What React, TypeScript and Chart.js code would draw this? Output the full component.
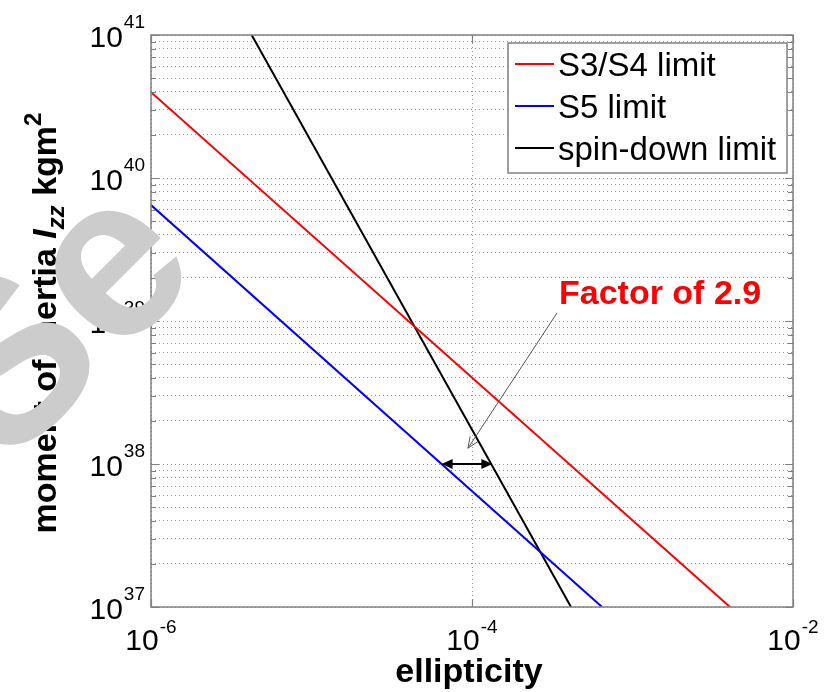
import { useEffect, useRef } from "react";
import { Chart, registerables } from "chart.js";

Chart.register(...registerables);

const FONT = '"Liberation Sans", Arial, Helvetica, sans-serif';

// Upper limits on the moment of inertia versus ellipticity (log-log)
const s34Ellipticity = [1e-6, 4.05e-3];
const s34Izz = [3.98e40, 1e37];
const s5Ellipticity = [1e-6, 6.46e-4];
const s5Izz = [6.47e39, 1e37];
const spinDownEllipticity = [4.24e-6, 4.14e-4];
const spinDownIzz = [1e41, 1e37];

const seriesLabels = ["S3/S4 limit", "S5 limit", "spin-down limit"];
const seriesColors = ["#ff0000", "#0000ff", "#000000"];

// Axis ticks
const xTickValues = [1e-6, 1e-4, 1e-2];
const yDecades = [1e37, 1e38, 1e39, 1e40, 1e41];
const yMinorSteps = [2, 3, 4, 5, 6, 7, 8, 9];

// Annotation: gap between the S5 limit and the spin-down limit
const gapEllipticity = [6.47e-5, 1.34e-4];
const gapIzz = 1e38;
const pointerStart = [3.39e-4, 1.14e39];
const pointerEnd = [9.44e-5, 1.29e38];
const factorText = "Factor of 2.9";

const xTitle = "ellipticity";
const yTitleParts = ["moment of inertia ", "I", "zz", " kgm", "2"];
const watermarkText = "Se";

const yMinorValues = yDecades.slice(0, -1).flatMap((d) => yMinorSteps.map((m) => d * m));
const yGridValues = [...yDecades, ...yMinorValues].sort((a, b) => a - b);

const pts = (xs: number[], ys: number[]) => xs.map((x, i) => ({ x, y: ys[i] }));

function drawPow(
  ctx: CanvasRenderingContext2D,
  exp: string,
  x: number,
  baseline: number,
  align: "right" | "center",
  baseSize: number,
  supSize: number,
  supBaseline: number
) {
  ctx.font = `${baseSize}px ${FONT}`;
  const w10 = ctx.measureText("10").width;
  ctx.font = `${supSize}px ${FONT}`;
  const we = ctx.measureText(exp).width;
  const total = w10 + 1 + we;
  const start = align === "right" ? x - total : x - total / 2;
  ctx.textAlign = "left";
  ctx.textBaseline = "alphabetic";
  ctx.fillStyle = "#000";
  ctx.font = `${baseSize}px ${FONT}`;
  ctx.fillText("10", start, baseline);
  ctx.font = `${supSize}px ${FONT}`;
  ctx.fillText(exp, start + w10 + 1, supBaseline);
}

const decorPlugin = {
  id: "decor",
  afterDatasetsDraw(chart: any) {
    const { ctx, chartArea: a, scales } = chart;
    const xs = scales.x;
    const ys = scales.y;
    ctx.save();

    // axes box
    ctx.strokeStyle = "#808080";
    ctx.lineWidth = 1.5;
    ctx.strokeRect(a.left, a.top, a.right - a.left, a.bottom - a.top);

    // inward tick marks on all four sides
    ctx.lineWidth = 1.2;
    ctx.beginPath();
    yGridValues.forEach((v) => {
      const py = Math.round(ys.getPixelForValue(v)) + 0.5;
      const len = yDecades.includes(v) ? 8 : 5;
      ctx.moveTo(a.left, py);
      ctx.lineTo(a.left + len, py);
      ctx.moveTo(a.right, py);
      ctx.lineTo(a.right - len, py);
    });
    xTickValues.forEach((v) => {
      const px = Math.round(xs.getPixelForValue(v)) + 0.5;
      ctx.moveTo(px, a.bottom);
      ctx.lineTo(px, a.bottom - 8);
      ctx.moveTo(px, a.top);
      ctx.lineTo(px, a.top + 8);
    });
    ctx.stroke();

    // legend
    const lx = 508, ly = 43, lw = 279, lh = 130;
    ctx.fillStyle = "#fff";
    ctx.fillRect(lx, ly, lw, lh);
    ctx.strokeStyle = "#808080";
    ctx.lineWidth = 1.5;
    ctx.strokeRect(lx, ly, lw, lh);
    chart.data.datasets.forEach((ds: any, i: number) => {
      const ry = 64 + i * 42;
      ctx.strokeStyle = ds.borderColor;
      ctx.lineWidth = 1.8;
      ctx.beginPath();
      ctx.moveTo(515, ry);
      ctx.lineTo(554, ry);
      ctx.stroke();
      ctx.fillStyle = "#000";
      ctx.font = `33px ${FONT}`;
      ctx.textAlign = "left";
      ctx.textBaseline = "alphabetic";
      ctx.fillText(ds.label, 558, ry + 11.5);
    });

    // pointer arrow towards the gap
    const p0x = xs.getPixelForValue(pointerStart[0]);
    const p0y = ys.getPixelForValue(pointerStart[1]);
    const p1x = xs.getPixelForValue(pointerEnd[0]);
    const p1y = ys.getPixelForValue(pointerEnd[1]);
    ctx.strokeStyle = "#555";
    ctx.lineWidth = 1;
    ctx.beginPath();
    ctx.moveTo(p0x, p0y);
    ctx.lineTo(p1x, p1y);
    const ang = Math.atan2(p1y - p0y, p1x - p0x);
    const hl = 12;
    [0.4, -0.4].forEach((d) => {
      ctx.moveTo(p1x, p1y);
      ctx.lineTo(p1x - hl * Math.cos(ang + d), p1y - hl * Math.sin(ang + d));
    });
    ctx.stroke();

    // double-headed arrow across the gap
    const gy = ys.getPixelForValue(gapIzz);
    const gx0 = xs.getPixelForValue(gapEllipticity[0]);
    const gx1 = xs.getPixelForValue(gapEllipticity[1]);
    ctx.strokeStyle = "#000";
    ctx.fillStyle = "#000";
    ctx.lineWidth = 2;
    ctx.beginPath();
    ctx.moveTo(gx0 + 6, gy);
    ctx.lineTo(gx1 - 6, gy);
    ctx.stroke();
    const head = (tx: number, dir: number) => {
      ctx.beginPath();
      ctx.moveTo(tx, gy);
      ctx.lineTo(tx - dir * 11, gy - 5);
      ctx.lineTo(tx - dir * 11, gy + 5);
      ctx.closePath();
      ctx.fill();
    };
    head(gx0, -1);
    head(gx1, 1);

    // annotation text
    ctx.fillStyle = "#ff0000";
    ctx.font = `bold 34px ${FONT}`;
    ctx.textAlign = "left";
    ctx.textBaseline = "alphabetic";
    ctx.fillText(factorText, 559, 304);

    ctx.restore();
  },
  afterDraw(chart: any) {
    const { ctx, chartArea: a, scales } = chart;
    const xs = scales.x;
    const ys = scales.y;
    ctx.save();

    // tick labels as powers of ten
    yDecades.forEach((v) => {
      const py = ys.getPixelForValue(v);
      drawPow(ctx, String(Math.round(Math.log10(v))), 145, py + 12, "right", 30, 19, py - 7);
    });
    xTickValues.forEach((v) => {
      const px = xs.getPixelForValue(v);
      drawPow(ctx, String(Math.round(Math.log10(v))), px, 650, "center", 30, 19, 633);
    });

    // x title
    ctx.fillStyle = "#000";
    ctx.font = `bold 34px ${FONT}`;
    ctx.textAlign = "center";
    ctx.textBaseline = "alphabetic";
    ctx.fillText(xTitle, (a.left + a.right) / 2 - 3, 682);

    // y title with italic symbol, subscript and superscript
    const fonts = [
      `bold 34px ${FONT}`,
      `italic bold 34px ${FONT}`,
      `italic bold 24px ${FONT}`,
      `bold 34px ${FONT}`,
      `bold 24px ${FONT}`,
    ];
    const offsets = [0, 0, 8, 0, -15];
    const widths = yTitleParts.map((t, i) => {
      ctx.font = fonts[i];
      return ctx.measureText(t).width;
    });
    const total = widths.reduce((s, w) => s + w, 0);
    ctx.translate(56, (a.top + a.bottom) / 2 + 2);
    ctx.rotate(-Math.PI / 2);
    ctx.textAlign = "left";
    let cx = -total / 2;
    yTitleParts.forEach((t, i) => {
      ctx.font = fonts[i];
      ctx.fillText(t, cx, offsets[i]);
      cx += widths[i];
    });
    ctx.setTransform(1, 0, 0, 1, 0, 0);

    // watermark
    ctx.translate(6, 470);
    ctx.rotate((-45 * Math.PI) / 180);
    ctx.fillStyle = "#cccccc";
    ctx.font = `bold 230px ${FONT}`;
    ctx.textAlign = "left";
    ctx.textBaseline = "alphabetic";
    ctx.fillText(watermarkText, 0, 0);

    ctx.restore();
  },
};

export default function App() {
  const canvasRef = useRef<HTMLCanvasElement | null>(null);

  useEffect(() => {
    const canvas = canvasRef.current;
    if (!canvas) return;
    const gridOpts = {
      color: "rgba(0,0,0,0.4)",
      lineWidth: 1,
      drawTicks: false,
    };
    const chart = new Chart(canvas, {
      type: "line",
      data: {
        datasets: [
          { label: seriesLabels[0], data: pts(s34Ellipticity, s34Izz), borderColor: seriesColors[0] },
          { label: seriesLabels[1], data: pts(s5Ellipticity, s5Izz), borderColor: seriesColors[1] },
          { label: seriesLabels[2], data: pts(spinDownEllipticity, spinDownIzz), borderColor: seriesColors[2] },
        ].map((d) => ({ ...d, borderWidth: 2, pointRadius: 0, fill: false, tension: 0 })),
      },
      options: {
        animation: false,
        responsive: false,
        devicePixelRatio: 1,
        layout: { padding: { left: 0, right: 37, top: 35, bottom: 0 } },
        plugins: { legend: { display: false }, tooltip: { enabled: false } },
        scales: {
          x: {
            type: "logarithmic",
            min: 1e-6,
            max: 1e-2,
            ticks: { display: false },
            grid: gridOpts,
            border: { display: false, dash: [1, 3] },
            afterBuildTicks: (s: any) => {
              s.ticks = xTickValues.map((value) => ({ value }));
            },
            afterFit: (s: any) => {
              s.height = 85;
            },
          },
          y: {
            type: "logarithmic",
            min: 1e37,
            max: 1e41,
            ticks: { display: false },
            grid: gridOpts,
            border: { display: false, dash: [1, 3] },
            afterBuildTicks: (s: any) => {
              s.ticks = yGridValues.map((value) => ({ value }));
            },
            afterFit: (s: any) => {
              s.width = 151;
            },
          },
        },
      } as any,
      plugins: [decorPlugin],
    });
    return () => chart.destroy();
  }, []);

  return (
    <div style={{ position: "fixed", left: 0, top: 0, width: 830, height: 692, background: "#fff" }}>
      <canvas ref={canvasRef} width={830} height={692} style={{ display: "block" }} />
    </div>
  );
}
